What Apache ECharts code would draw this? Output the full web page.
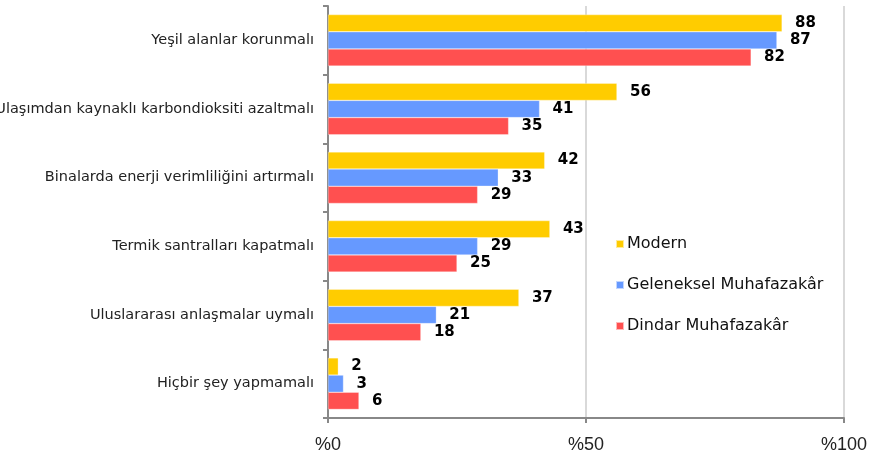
<!DOCTYPE html>
<html>
<head>
<meta charset="utf-8">
<script src="https://cdn.jsdelivr.net/npm/echarts@6/dist/echarts.min.js"></script>
<style>
  html, body { margin: 0; padding: 0; background: #fff; }
  #chart { width: 869px; height: 460px; }
</style>
</head>
<body>
<div id="chart"></div>
<script>
const categories = [
  'Yeşil alanlar korunmalı',
  'Ulaşımdan kaynaklı karbondioksiti azaltmalı',
  'Binalarda enerji verimliliğini artırmalı',
  'Termik santralları kapatmalı',
  'Uluslararası anlaşmalar uymalı',
  'Hiçbir şey yapmamalı'
]
const seriesNames = ['Modern', 'Geleneksel Muhafazakâr', 'Dindar Muhafazakâr']
const modern = [88, 56, 42, 43, 37, 2]
const geleneksel = [87, 41, 33, 29, 21, 3]
const dindar = [82, 35, 29, 25, 18, 6]
const xTicks = [0, 50, 100]

const colors = ['#FFCC00', '#6699FF', '#FF5050']

const chart = echarts.init(document.getElementById('chart'))

const makeSeries = (name, data, color) => ({
  name: name,
  type: 'bar',
  data: data,
  barCategoryGap: '25%',
  barGap: '0%',
  itemStyle: { color: color, borderColor: 'rgba(255,255,255,0.6)', borderWidth: 0.5 },
  label: {
    show: true,
    position: 'right',
    distance: 13,
    color: '#000',
    fontFamily: 'DejaVu Sans',
    fontWeight: 900,
    fontSize: 15
  }
})

const option = {
  animation: false,
  textStyle: { fontFamily: 'DejaVu Sans' },
  grid: { left: 328, right: 25, top: 6, bottom: 42, containLabel: false, outerBoundsMode: 'none' },
  legend: {
    orient: 'vertical',
    left: 610,
    top: 231,
    itemWidth: 8,
    itemHeight: 8,
    itemGap: 25,
    icon: 'rect',
    textStyle: { fontSize: 16, color: '#111', fontFamily: 'DejaVu Sans', padding: [0, 0, 0, -2] },
    data: seriesNames
  },
  xAxis: {
    type: 'value',
    min: 0,
    max: 100,
    interval: 50,
    axisLine: { show: true, lineStyle: { color: '#888', width: 2 } },
    axisTick: { show: true, length: 5, lineStyle: { color: '#888', width: 2 } },
    splitLine: { show: true, lineStyle: { color: '#d9d9d9', width: 2 } },
    axisLabel: {
      margin: 18,
      fontSize: 18,
      color: '#222',
      fontFamily: 'Liberation Sans',
      formatter: v => xTicks.includes(v) ? '%' + v : ''
    }
  },
  yAxis: {
    type: 'category',
    data: categories,
    inverse: true,
    axisLine: { show: true, lineStyle: { color: '#888', width: 2 } },
    axisTick: { show: true, length: 5, lineStyle: { color: '#888', width: 2 } },
    axisLabel: { margin: 14, fontSize: 14.5, color: '#222', fontFamily: 'DejaVu Sans' }
  },
  series: [
    makeSeries(seriesNames[0], modern, colors[0]),
    makeSeries(seriesNames[1], geleneksel, colors[1]),
    makeSeries(seriesNames[2], dindar, colors[2])
  ]
}

chart.setOption(option)
</script>
</body>
</html>
